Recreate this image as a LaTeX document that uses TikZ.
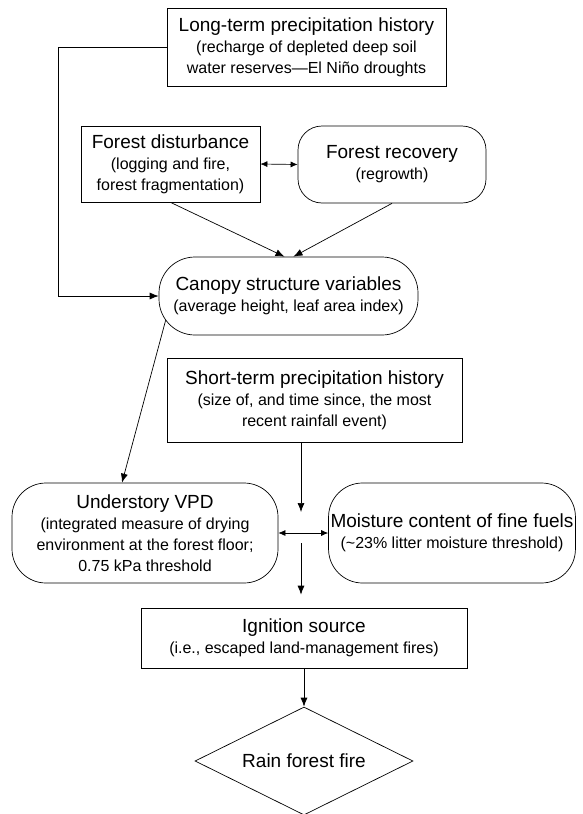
\documentclass[tikz,border=0pt]{standalone}
\usepackage{fontspec}
\setmainfont{Liberation Sans}
\usetikzlibrary{arrows.meta,shapes.geometric}

\newcommand{\hd}[1]{{\fontsize{19}{21}\selectfont #1}}

\begin{document}
\begin{tikzpicture}[x=1pt, y=-1pt,
		sqbox/.style={draw, line width=0.7pt, align=center, inner sep=2pt,
				font=\fontsize{16}{21}\selectfont},
		rdbox/.style={sqbox, rounded corners=#1},
		lnk/.style={line width=0.7pt, -{Latex[length=9pt,width=7pt]}},
		dlnk/.style={line width=0.7pt, {Latex[length=7pt,width=6pt]}-{Latex[length=7pt,width=6pt]}}]

	\useasboundingbox (0,0) rectangle (583,814);

	% --- Upper part ---
	\node[sqbox, minimum width=279pt, minimum height=78pt] (longterm) at (306.5,47)
		{\hd{Long-term precipitation history}\\(recharge of depleted deep soil\\water reserves---El Niño droughts};
	\node[sqbox, minimum width=179pt, minimum height=76pt] (disturb) at (170.5,164)
		{\hd{Forest disturbance}\\(logging and fire,\\forest fragmentation)};
	\node[rdbox=24pt, minimum width=188pt, minimum height=77pt] (recovery) at (392,164.5)
		{\hd{Forest recovery}\\(regrowth)};
	\node[rdbox=36pt, minimum width=259pt, minimum height=78pt] (canopy) at (288.5,296)
		{\hd{Canopy structure variables}\\(average height, leaf area index)};

	\draw[dlnk] (disturb.east) -- (recovery.west);
	\draw[lnk] (disturb.south) -- ([xshift=-4pt]canopy.north);
	\draw[lnk] (recovery.south) -- ([xshift=5pt]canopy.north);
	\draw[lnk] (longterm.west) -- ++(-108,0) |- (canopy.west);

	% --- Lower part ---
	\node[sqbox, minimum width=295pt, minimum height=84pt] (shortterm) at (314.5,400)
		{\hd{Short-term precipitation history}\\(size of, and time since, the most\\recent rainfall event)};
	\node[rdbox=34pt, minimum width=266pt, minimum height=100pt] (understory) at (145,533)
		{\hd{Understory VPD}\\(integrated measure of drying\\environment at the forest floor;\\0.75 kPa threshold};
	\node[rdbox=34pt, minimum width=246pt, minimum height=100pt] (moisture) at (452,533)
		{\hd{Moisture content of fine fuels}\\(\textasciitilde23\% litter moisture threshold)};
	\node[sqbox, minimum width=326pt, minimum height=60pt] (ignition) at (304,638)
		{\hd{Ignition source}\\(i.e., escaped land-management fires)};
	\node[draw, line width=0.7pt, diamond, aspect=2, inner sep=1pt,
		minimum width=218pt, minimum height=108pt] (fire) at (304,761)
		{\hd{Rain forest fire}};

	\coordinate (mid) at (301,533);
	\coordinate (ig) at (ignition.north -| mid);

	\draw[lnk] ([shift={(7pt,1pt)}]canopy.191) -- ([xshift=-23pt]understory.north);
	\draw[dlnk] (understory.east) -- (moisture.west);
	\draw[lnk] (shortterm.south -| mid) -- ([yshift=21pt]mid);
	\draw[lnk] ([yshift=-10pt]mid) -- ([yshift=13pt]ig);
	\draw[lnk] (ignition.south) -- (fire.north);

\end{tikzpicture}
\end{document}
